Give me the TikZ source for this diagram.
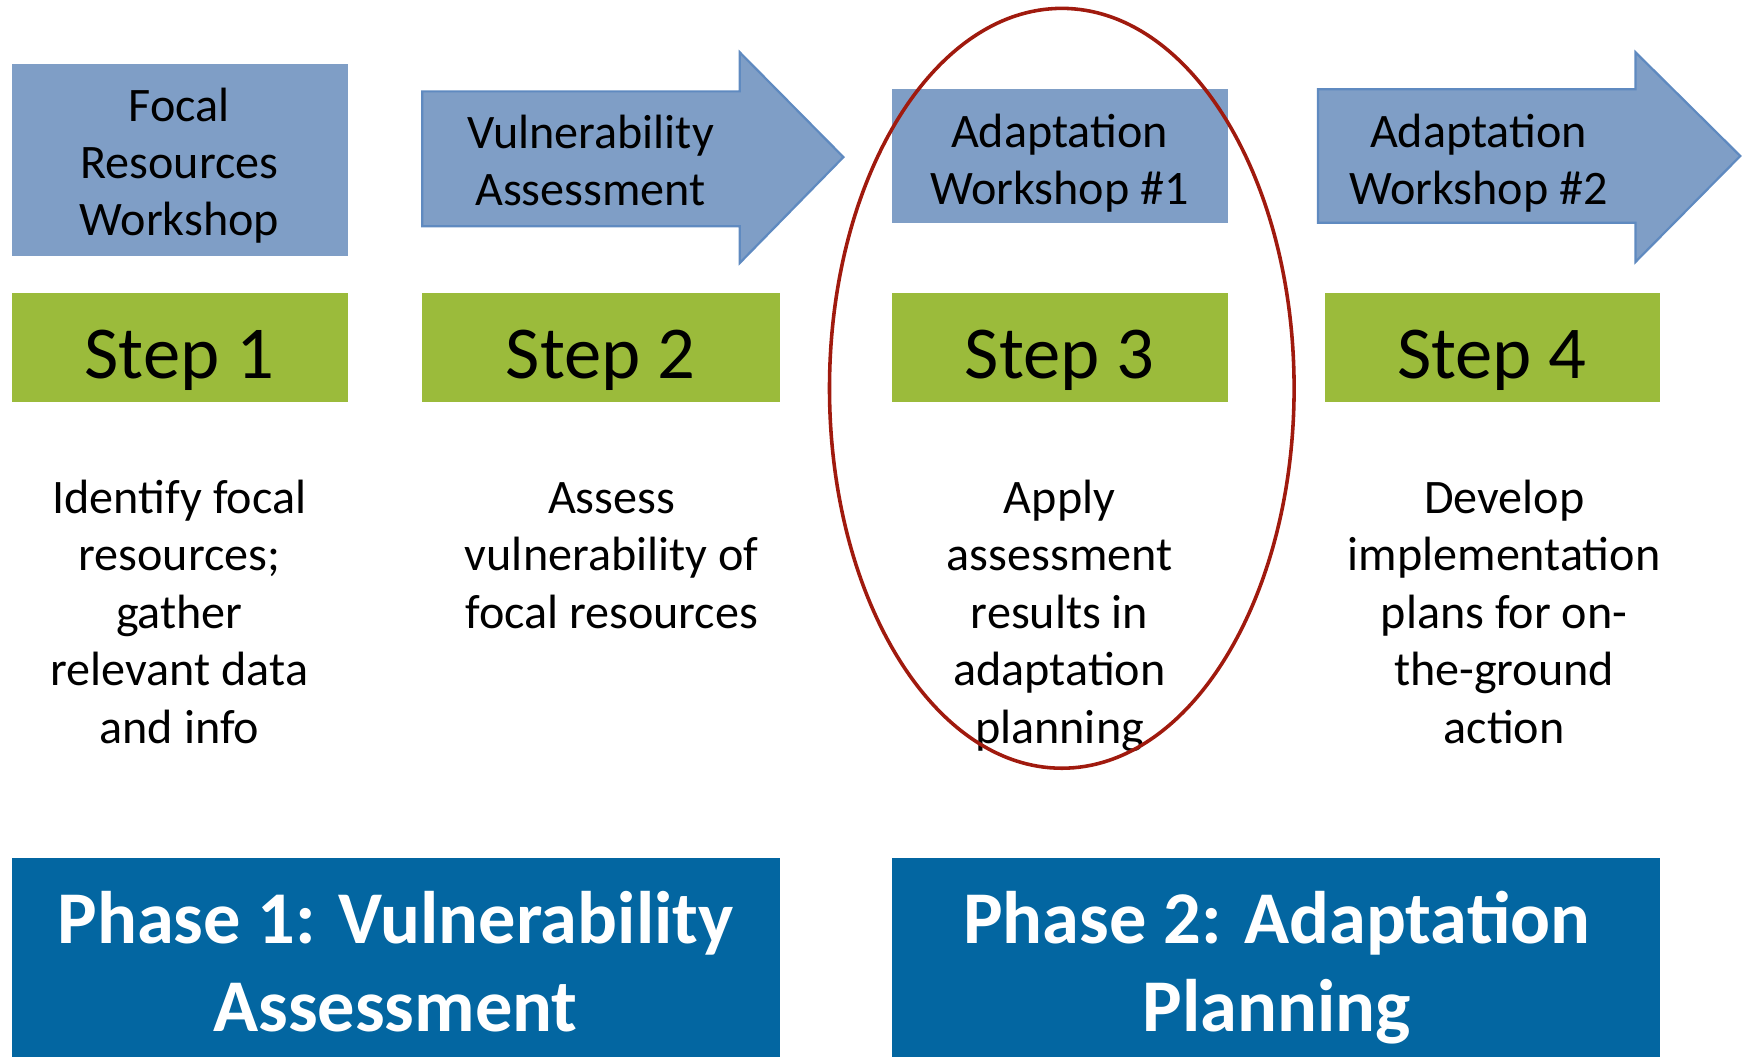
\documentclass[tikz,border=0pt]{standalone}
\usepackage{fontspec}
\setmainfont{Carlito}
\definecolor{boxblue}{HTML}{7F9EC6}
\definecolor{arrowedge}{HTML}{5F8AC0}
\definecolor{stepgreen}{HTML}{9BBB3B}
\definecolor{phaseblue}{HTML}{0366A1}
\definecolor{ringred}{HTML}{A01A0E}
\begin{document}
\begin{tikzpicture}[x=0.5pt,y=-0.5pt,
  toptext/.style={align=center,anchor=north,font=\fontsize{21.6}{25.5}\selectfont,inner sep=0pt},
  steptext/.style={anchor=base,font=\fontsize{33.5}{40}\selectfont,inner sep=0pt},
  desctext/.style={align=center,anchor=north,font=\fontsize{21.6}{25.75}\selectfont,inner sep=0pt},
  phasetext/.style={align=center,anchor=north,text=white,font=\fontsize{33.4}{39.5}\selectfont\bfseries,inner sep=0pt},
  bluebox/.style={fill=boxblue},
  bluearrow/.style={fill=boxblue,draw=arrowedge,line width=1pt,line join=miter},
  greenbox/.style={fill=stepgreen},
  phasebox/.style={fill=phaseblue},
  ring/.style={draw=ringred,line width=1.6pt}]
\useasboundingbox (0,0) rectangle (1568,949);
% top row
\fill[bluebox] (11,57) rectangle (312,230);
\path[bluearrow] (379,82) -- (664,82) -- (664,47) -- (757,141) -- (664,236) -- (664,203) -- (379,203) -- cycle;
\fill[bluebox] (801,80) rectangle (1102,200);
\path[bluearrow] (1183,80) -- (1468,80) -- (1468,47) -- (1562,140) -- (1468,235) -- (1468,200) -- (1183,200) -- cycle;
\node[toptext] (w1) at (161,73) {\strut Focal\\Resources\\Workshop\strut};
\node[toptext] (w2) at (530,97.5) {\strut Vulnerability\\Assessment\strut};
\node[toptext] (w3) at (951,96) {\strut Adaptation\\Workshop \#1\strut};
\node[toptext] (w4) at (1327,96) {\strut Adaptation\\Workshop \#2\strut};
% step row
\fill[greenbox] (11,263) rectangle (312,361);
\fill[greenbox] (379,263) rectangle (700,361);
\fill[greenbox] (801,263) rectangle (1102,361);
\fill[greenbox] (1189,263) rectangle (1490,361);
\node[steptext] (s1) at (161,339.6) {Step 1};
\node[steptext] (s2) at (539,339.6) {Step 2};
\node[steptext] (s3) at (951,339.6) {Step 3};
\node[steptext] (s4) at (1339,339.6) {Step 4};
% descriptions
\node[desctext] (d1) at (161,424.5) {\strut Identify focal\\resources;\\gather\\relevant data\\and info\strut};
\node[desctext] (d2) at (549,424.5) {\strut Assess\\vulnerability of\\focal resources\strut};
\node[desctext] (d3) at (951,424.5) {\strut Apply\\assessment\\results in\\adaptation\\planning\strut};
\node[desctext] (d4) at (1350,424.5) {\strut Develop\\implementation\\plans for on-\\the-ground\\action\strut};
% phases
\fill[phasebox] (11,770) rectangle (700,949);
\fill[phasebox] (801,770) rectangle (1490,949);
\node[phasetext] (p1) at (355,790.7) {\strut Phase 1: Vulnerability\\Assessment\strut};
\node[phasetext] (p2) at (1146,790.7) {\strut Phase 2: Adaptation\\Planning\strut};
% highlight ellipse
\draw[ring] (953,348.5) ellipse [x radius=208.5, y radius=341];
\end{tikzpicture}
\end{document}
